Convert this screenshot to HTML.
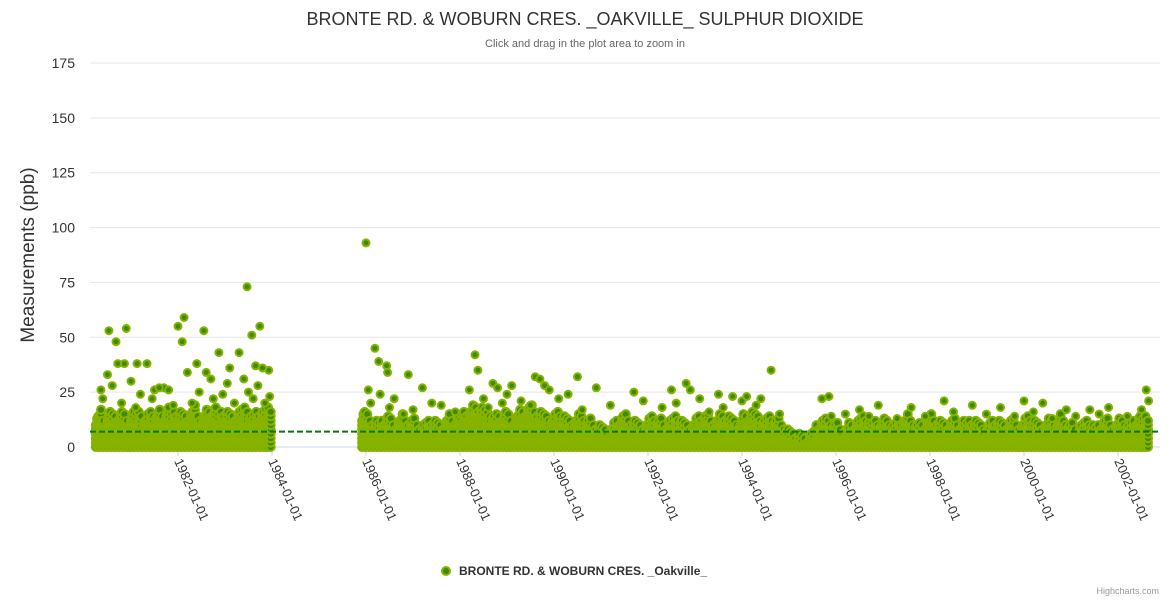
<!DOCTYPE html>
<html><head><meta charset="utf-8"><style>
body{margin:0;background:#fff;}
svg{display:block;font-family:"Liberation Sans","DejaVu Sans",sans-serif;}
</style></head><body>
<svg id="chart" width="1170" height="600">
<text x="585" y="25" text-anchor="middle" font-size="18" fill="#333">BRONTE RD. &amp; WOBURN CRES. _OAKVILLE_ SULPHUR DIOXIDE</text>
<text x="585" y="47" text-anchor="middle" font-size="11" fill="#666">Click and drag in the plot area to zoom in</text>
<text transform="translate(34,255) rotate(-90)" text-anchor="middle" font-size="19" fill="#333">Measurements (ppb)</text>
<g id="grid"></g><g id="ylabels"></g><g id="xaxis"></g>
<g id="plot"></g>
<g id="outl"></g>
<line x1="90" x2="1160" y1="432" y2="432" stroke="#007a00" stroke-width="2" stroke-dasharray="6,3" id="meanline"/>
<g>
<circle cx="446" cy="571" r="4" fill="#3f8a00" stroke="#86b300" stroke-width="2"/>
<text x="459" y="575" font-size="12" font-weight="bold" fill="#333">BRONTE RD. &amp; WOBURN CRES. _Oakville_</text>
</g>
<text x="1159" y="594" text-anchor="end" font-size="9" fill="#999">Highcharts.com</text>
</svg>
<script>
const yTicks=[0,25,50,75,100,125,150,175];
const xTickLabels=["1982-01-01","1984-01-01","1986-01-01","1988-01-01","1990-01-01","1992-01-01","1994-01-01","1996-01-01","1998-01-01","2000-01-01","2002-01-01"];
const meanValue=7;
const seg1Start=1980+3/12;
const seg1=[10,12,9,13,11,10,12,11,9,
13,10,12,9,11,13,10,12,11,14,10,12,
13,11,10,12,14,11,10,13,12,14,11,13,
12,10,11,13,12,14,11,10,12,13,12,14];
const seg2Start=1985+11/12;
const seg2=[12,
11,9,8,7,8,10,8,7,9,10,8,9,
8,7,6,7,8,9,7,6,8,10,9,10,
11,12,13,14,15,14,13,12,11,10,11,12,
10,9,11,12,13,14,15,13,12,11,10,9,
11,12,10,9,8,9,11,10,9,8,7,6,
5,4,4,6,8,10,11,9,8,7,6,7,
9,10,9,8,7,8,9,10,8,7,6,7,
8,10,11,10,9,8,10,11,10,9,8,7,
10,11,12,11,10,9,8,10,9,8,7,4,
3,2,2,1,1,2,3,6,8,9,8,7,
6,5,4,6,7,8,9,10,8,7,8,7,
8,9,7,6,8,9,10,8,7,6,7,8,
10,9,8,7,6,8,9,7,8,7,9,8,
7,6,5,6,8,9,7,6,8,9,7,6,
8,10,9,7,6,7,9,8,7,10,8,7,
6,5,6,7,8,6,5,7,8,9,7,6,
8,9,7,6,8,10,9,11];
const outDates=[1980.36,1980.53,1980.68,1980.72,1980.9,1980.86,1981.13,1981.34,1981.5,1981.7,1982.0,1982.13,1982.09,1982.4,1982.55,1982.87,1982.6,1983.1,1983.3,1983.47,1983.57,1983.74,1983.65,1983.93,1983.8,
1986.0,1986.19,1986.27,1986.44,1986.46,1986.9,1987.2,1988.32,1988.38,1988.7,1989.1,1989.6,1989.7,1989.8,1990.5,1990.9,1991.7,1992.5,1992.81,1992.9,1993.5,1993.8,1994.0,1994.62,1994.4,1995.7,1995.85,1996.5,1996.9,1997.6,1998.3,1998.9,1999.5,2000.0,2000.4,2000.9,2001.4,2001.8,2002.6,2002.65,
1980.4,1980.5,1980.6,1980.8,1981.0,1981.1,1981.2,1981.45,1981.6,1981.8,1981.9,1982.2,1982.3,1982.45,1982.7,1982.75,1982.95,1983.05,1983.2,1983.4,1983.5,1983.6,1983.7,1983.85,1983.95,
1986.05,1986.1,1986.3,1986.5,1986.6,1986.8,1987.0,1987.4,1987.6,1987.9,1988.2,1988.5,1988.6,1988.8,1988.9,1989.0,1989.3,1989.5,1989.9,1990.1,1990.3,1990.6,1991.2,1991.9,1992.3,1992.6,1993.1,1993.3,1993.6,1994.1,1994.3,1994.8,1995.9,1996.2,1996.7,1997.3,1997.9,1998.5,1999.2,1999.8,2000.2,2000.6,2001.1,2001.6,2002.2,2002.5];
const outValues=[26,53,48,38,54,38,38,38,26,27,55,59,48,38,53,43,34,36,43,73,51,55,37,35,36,
93,45,39,37,34,33,27,42,35,29,28,32,31,28,32,27,25,26,29,26,24,23,21,35,22,22,23,17,19,18,21,19,18,21,20,17,17,18,26,21,
22,33,28,20,30,18,24,22,27,26,19,34,20,25,31,22,24,29,20,31,25,22,28,20,23,
26,20,24,18,22,15,17,20,19,16,26,22,18,27,20,24,21,19,26,22,24,17,19,21,18,20,22,16,18,23,19,15,14,15,14,13,14,16,15,14,16,13,14,15,14,17];

const X0=1982,PX0=178,PPY=47;
const xs=t=>PX0+(t-X0)*PPY;
const ys=v=>447-v*(384/175);
const NS="http://www.w3.org/2000/svg";
function mk(tag,attrs,parent){const e=document.createElementNS(NS,tag);for(const k in attrs)e.setAttribute(k,attrs[k]);parent.appendChild(e);return e;}
const grid=document.getElementById('grid'),yl=document.getElementById('ylabels'),xa=document.getElementById('xaxis');
yTicks.forEach(v=>{
  const l=mk('line',{x1:90,x2:1160,y1:ys(v),y2:ys(v),stroke:v===0?'#ccd6eb':'#e6e6e6','stroke-width':1},grid);
  
  
  const t=mk('text',{x:75,y:ys(v)+5,'text-anchor':'end','font-size':14,fill:'#333'},yl);
  t.textContent=v;
  
  
});
xTickLabels.forEach(s=>{
  const x=xs(parseInt(s));
  const tk=mk('line',{x1:x,x2:x,y1:447,y2:456,stroke:'#ccd6eb'},xa);
  
  
  const t=mk('text',{transform:`translate(${x-4},${461}) rotate(66)`,'font-size':13,fill:'#333'},xa);
  t.textContent=s;
  
  
});
const plot=document.getElementById('plot');
function drawSeg(start,arr){
  arr.forEach((m,i)=>{
    const t=start+i/12;
    for(let k=0;k<3;k++){
      const x=xs(t+k/36);
      const top=m+((i+k)%3)*2;
      for(let v=0;v<=top;v+=2){
        const c=mk('circle',{cx:x.toFixed(1),cy:ys(v+(k%2)).toFixed(1),r:4,fill:'#3f8a00',stroke:'#86b300','stroke-width':2},plot);
        
        
      }
    }
  });
}
drawSeg(seg1Start,seg1);
drawSeg(seg2Start,seg2);
const outl=document.getElementById('outl');
outDates.forEach((d,i)=>{
  const c=mk('circle',{cx:xs(d).toFixed(1),cy:ys(outValues[i]).toFixed(1),r:3.5,fill:'#3f8a00',stroke:'#86b300','stroke-width':2},outl);
  
  
});
document.getElementById('meanline').setAttribute('y1',ys(meanValue));
document.getElementById('meanline').setAttribute('y2',ys(meanValue));
</script>
</body></html>
